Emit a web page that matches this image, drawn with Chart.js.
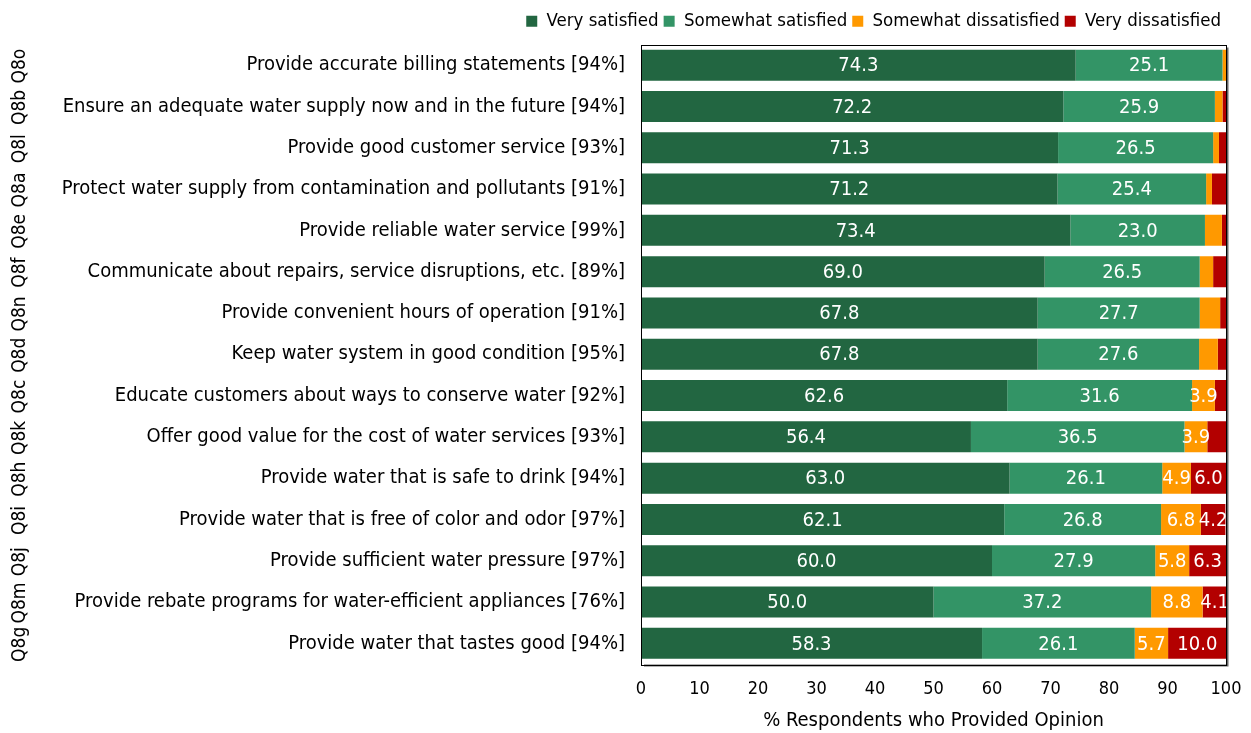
<!DOCTYPE html>
<html>
<head>
<meta charset="utf-8">
<script src="https://cdn.jsdelivr.net/npm/chart.js@4.4.1/dist/chart.umd.min.js"></script>
<style>
  html, body { margin: 0; padding: 0; background: #fff; }
</style>
</head>
<body>
<canvas id="myChart" width="1251" height="733"></canvas>
<script>
const FONT = '"DejaVu Sans Condensed", "DejaVu Sans", sans-serif';

// service attributes, top to bottom
const items = [
  'Provide accurate billing statements [94%]',
  'Ensure an adequate water supply now and in the future [94%]',
  'Provide good customer service [93%]',
  'Protect water supply from contamination and pollutants [91%]',
  'Provide reliable water service [99%]',
  'Communicate about repairs, service disruptions, etc. [89%]',
  'Provide convenient hours of operation [91%]',
  'Keep water system in good condition [95%]',
  'Educate customers about ways to conserve water [92%]',
  'Offer good value for the cost of water services [93%]',
  'Provide water that is safe to drink [94%]',
  'Provide water that is free of color and odor [97%]',
  'Provide sufficient water pressure [97%]',
  'Provide rebate programs for water-efficient appliances [76%]',
  'Provide water that tastes good [94%]'
];
const codes = ['Q8o', 'Q8b', 'Q8l', 'Q8a', 'Q8e', 'Q8f', 'Q8n', 'Q8d', 'Q8c', 'Q8k', 'Q8h', 'Q8i', 'Q8j', 'Q8m', 'Q8g'];

const verySatisfied        = [74.3, 72.2, 71.3, 71.2, 73.4, 69.0, 67.8, 67.8, 62.6, 56.4, 63.0, 62.1, 60.0, 50.0, 58.3];
const somewhatSatisfied    = [25.1, 25.9, 26.5, 25.4, 23.0, 26.5, 27.7, 27.6, 31.6, 36.5, 26.1, 26.8, 27.9, 37.2, 26.1];
const somewhatDissatisfied = [0.6, 1.3, 1.0, 1.0, 2.9, 2.3, 3.5, 3.2, 3.9, 3.9, 4.9, 6.8, 5.8, 8.8, 5.7];
const veryDissatisfied     = [0.0, 0.6, 1.2, 2.4, 0.7, 2.2, 1.0, 1.4, 1.9, 3.2, 6.0, 4.2, 6.3, 4.1, 10.0];

const xTicks = [0, 10, 20, 30, 40, 50, 60, 70, 80, 90, 100];

// white numbers inside the wider segments
const barValues = {
  id: 'barValues',
  afterDatasetsDraw(chart) {
    const ctx = chart.ctx;
    ctx.save();
    ctx.font = '20px ' + FONT;
    ctx.fillStyle = '#fff';
    ctx.textAlign = 'center';
    ctx.textBaseline = 'middle';
    chart.data.datasets.forEach((ds, i) => {
      chart.getDatasetMeta(i).data.forEach((bar, j) => {
        const v = ds.data[j];
        if (v < 3.8) return;
        const p = bar.getProps(['x', 'y', 'base'], true);
        ctx.fillText(v.toFixed(1), (p.x + p.base) / 2, p.y + 1);
      });
    });
    ctx.restore();
  }
};

// box round the plot area with a little shadow
const frame = {
  id: 'frame',
  afterDraw(chart) {
    const a = chart.chartArea;
    const ctx = chart.ctx;
    ctx.save();
    ctx.strokeStyle = '#666';
    ctx.lineWidth = 2;
    ctx.beginPath();
    ctx.moveTo(a.right + 1.5, a.top + 3);
    ctx.lineTo(a.right + 1.5, a.bottom + 1.5);
    ctx.lineTo(a.left + 3, a.bottom + 1.5);
    ctx.stroke();
    ctx.strokeStyle = '#000';
    ctx.lineWidth = 1;
    ctx.strokeRect(Math.round(a.left) + 0.5, Math.round(a.top) + 0.5,
      Math.round(a.right - a.left), Math.round(a.bottom - a.top));
    ctx.restore();
  }
};

// a bit more room under the legend
const legendGap = {
  id: 'legendGap',
  afterInit(chart) {
    const legend = chart.legend;
    if (!legend) return;
    const fit = legend.fit;
    legend.fit = function () {
      fit.call(this);
      this.height += 4;
    };
  }
};

Chart.defaults.font.family = FONT;
Chart.defaults.color = '#000';

new Chart('myChart', {
  type: 'bar',
  data: {
    labels: items,
    datasets: [
      { label: 'Very satisfied', data: verySatisfied, backgroundColor: '#226641' },
      { label: 'Somewhat satisfied', data: somewhatSatisfied, backgroundColor: '#339466' },
      { label: 'Somewhat dissatisfied', data: somewhatDissatisfied, backgroundColor: '#ff9900' },
      { label: 'Very dissatisfied', data: veryDissatisfied, backgroundColor: '#b30000' }
    ]
  },
  options: {
    indexAxis: 'y',
    responsive: false,
    animation: false,
    barPercentage: 0.75,
    categoryPercentage: 1,
    layout: { padding: { top: 7, right: 25, bottom: 0, left: 0 } },
    plugins: {
      legend: {
        position: 'top',
        align: 'end',
        labels: { boxWidth: 11, boxHeight: 11, padding: 5, font: { size: 18.5 } }
      },
      tooltip: { enabled: false }
    },
    scales: {
      x: {
        stacked: true,
        min: 0,
        max: 100,
        afterBuildTicks(scale) { scale.ticks = xTicks.map(v => ({ value: v })); },
        afterFit(scale) { scale.height = 69; },
        grid: { display: false, drawTicks: true, tickLength: 15 },
        border: { display: false },
        ticks: { font: { size: 18 }, padding: 0 },
        title: {
          display: true,
          text: '% Respondents who Provided Opinion',
          font: { size: 20 },
          padding: { top: 0, bottom: 0 }
        }
      },
      y: {
        stacked: true,
        afterFit(scale) { scale.width = 597; },
        grid: { display: false, drawTicks: false },
        border: { display: false },
        ticks: { font: { size: 20 }, padding: 16 }
      },
      yQ: {
        type: 'category',
        labels: codes,
        position: 'left',
        weight: 1,
        afterFit(scale) { scale.width = 44; },
        grid: { display: false, drawTicks: false },
        border: { display: false },
        ticks: {
          font: { size: 19 },
          autoSkip: false,
          minRotation: 90,
          maxRotation: 90,
          crossAlign: 'center',
          padding: 3,
          labelOffset: 1
        }
      }
    }
  },
  plugins: [barValues, frame, legendGap]
});
</script>
</body>
</html>
